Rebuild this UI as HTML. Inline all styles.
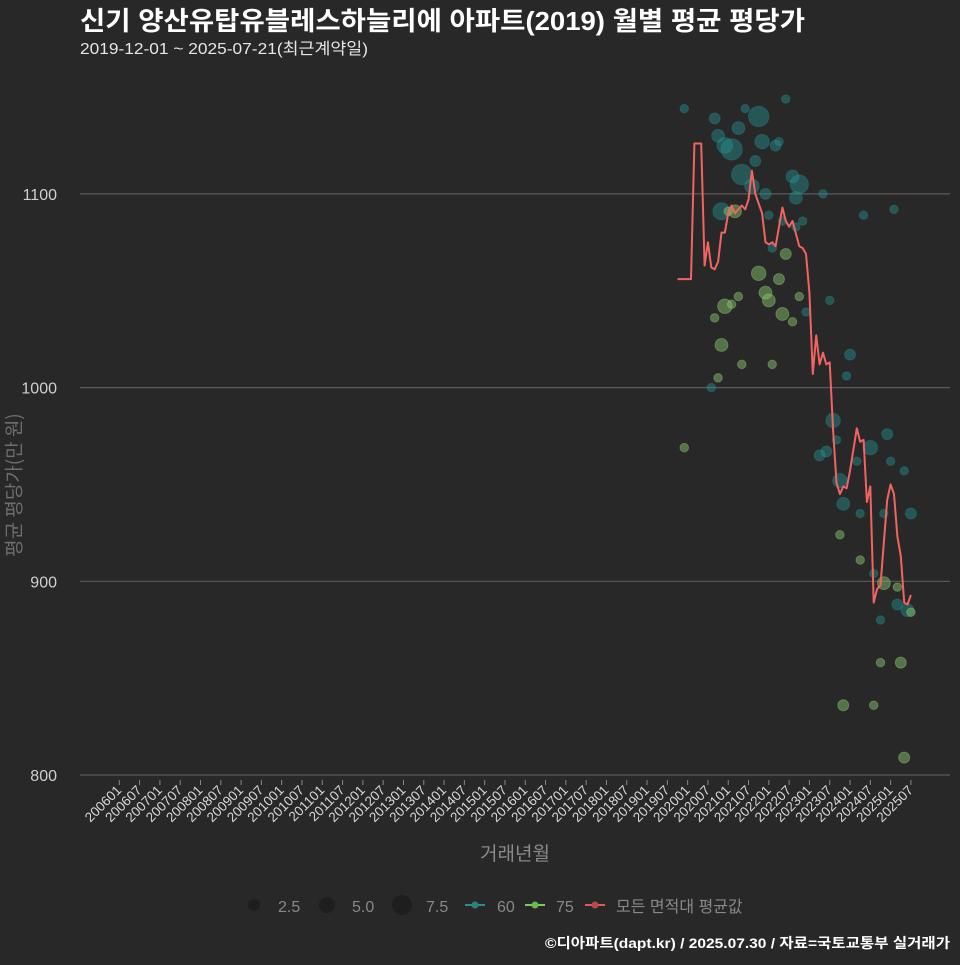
<!DOCTYPE html>
<html><head><meta charset="utf-8">
<style>
html,body{margin:0;padding:0;background:#282828;}
body{width:960px;height:960px;overflow:hidden;font-family:"Liberation Sans","Noto Sans CJK KR",sans-serif;position:relative;}
svg text{font-family:"Liberation Sans","Noto Sans CJK KR",sans-serif;}
#ytitle{position:absolute;left:13px;top:485px;transform:translate(-50%,-50%) rotate(-90deg);transform-origin:center;white-space:nowrap;color:#6e6e6e;font-size:19px;font-family:"Noto Sans CJK KR",sans-serif;}
</style></head>
<body>
<svg id="chart" width="960" height="960" xmlns="http://www.w3.org/2000/svg">
<rect width="960" height="960" fill="#282828"/>
<text x="80" y="30" fill="#ffffff" font-size="26" font-weight="bold" textLength="725" lengthAdjust="spacingAndGlyphs">신기 양산유탑유블레스하늘리에 아파트(2019) 월별 평균 평당가</text>
<text x="80" y="54" fill="#e6e6e6" font-size="16" textLength="288" lengthAdjust="spacingAndGlyphs">2019-12-01 ~ 2025-07-21(최근계약일)</text>
<g id="grid"></g>
<g id="bubbles"></g>
<g id="line"></g>
<g id="xaxis"></g>
<text x="515" y="860" fill="#8a8a8a" font-size="19" text-anchor="middle">거래년월</text>
<g>
  <circle cx="254" cy="905" r="6" fill="#1e1e1e"/>
  <text x="278" y="912" fill="#888" font-size="16">2.5</text>
  <circle cx="327" cy="905" r="8" fill="#1e1e1e"/>
  <text x="352" y="912" fill="#888" font-size="16">5.0</text>
  <circle cx="402" cy="905" r="10" fill="#1e1e1e"/>
  <text x="426" y="912" fill="#888" font-size="16">7.5</text>
</g>
<text x="950" y="948" fill="#ffffff" font-size="14" font-weight="bold" text-anchor="end" textLength="405" lengthAdjust="spacingAndGlyphs">©디아파트(dapt.kr) / 2025.07.30 / 자료=국토교통부 실거래가</text>
</svg>
<div id="ytitle">평균 평당가(만 원)</div>
<script>
// ---- data ----
const lineMonths = ["201910","202002","202003","202005","202006","202007","202008","202009","202010","202011","202012","202101","202102","202103","202105","202106","202107","202108","202109","202111","202112","202201","202202","202203","202205","202206","202207","202208","202210","202211","202212","202301","202302","202303","202304","202305","202306","202307","202308","202309","202310","202311","202312","202401","202403","202404","202405","202406","202407","202408","202409","202410","202412","202501","202502","202503","202504","202505","202506","202507"];
const lineValues = [1056,1056,1126,1126,1063,1075,1062,1061,1065,1080,1080,1090,1094,1090,1094,1092,1097,1112,1100,1090,1075,1074,1075,1073,1093,1086,1083,1086,1073,1072,1069,1049,1007,1027,1012,1018,1012,1013,978,951,945,949,948,957,979,972,973,941,949,889,896,898,942,950,945,923,913,889,888,893];
const teal60Months = ["201912","202206","202009","202106","202110","202104","202010","202102","202012","202111","202203","202204","202109","202105","202108","202208","202210","202112","202209","202305","202011","202201","202205","202211","202209","202405","202502","202202","202307","202212","202401","202312","202008","202308","202309","202304","202306","202403","202412","202407","202501","202505","202310","202311","202404","202411","202507","202408","202503","202506","202410"];
const teal60Values = [1144,1149,1139,1144,1140,1134,1130,1123,1125,1127,1125,1127,1117,1110,1104,1109,1105,1100,1098,1100,1091,1089,1086,1086,1083,1089,1092,1072,1045,1039,1017,1006,1000,983,973,965,967,962,976,969,962,957,952,940,935,935,935,904,888,885,880];
const teal60Counts = [1,1,2,1,9,3,3,10,5,4,2,1,2,9,4,3,7,2,3,1,6,1,1,1,1,1,1,1,1,1,2,1,1,4,1,2,2,1,2,4,1,1,4,3,1,1,2,1,2,3,1];
const green75Months = ["202101","202103","202206","202110","202204","202112","202201","202012","202102","202104","202210","202205","202208","202009","202011","202105","202202","202010","201912","202310","202404","202411","202503","202507","202410","202504","202311","202408","202505"];
const green75Values = [1091,1091,1069,1059,1056,1049,1045,1042,1043,1047,1047,1038,1034,1036,1022,1012,1012,1005,969,924,911,899,897,884,858,858,836,836,809];
const green75Counts = [1,3,2,4,2,3,3,4,1,1,1,3,1,1,3,1,1,1,1,1,1,3,1,1,1,2,2,1,2];
const yTicks = [800,900,1000,1100];

// ---- scales ----
const NS="http://www.w3.org/2000/svg";
function monthIdx(s){return (parseInt(s.slice(0,4))-2006)*12+parseInt(s.slice(4,6))-1;}
function xScale(s){return 119.3+monthIdx(s)*3.383;}
function yScale(v){return 775-(v-800)*1.937;}
function rScale(n){return 1.25+3*Math.sqrt(n);}
function mk(tag,attrs,parent){const e=document.createElementNS(NS,tag);for(const k in attrs)e.setAttribute(k,attrs[k]);parent.appendChild(e);return e;}

const grid=document.getElementById('grid');
yTicks.forEach(v=>{
  const l=mk('line',{x1:80,x2:950,y1:yScale(v),y2:yScale(v),stroke:'#5a5a5a','stroke-width':1.2},grid);
  
  
  const t=mk('text',{x:57,y:yScale(v)+6,fill:'#d0d0d0','font-size':16,'text-anchor':'end'},grid);
  t.textContent=v;
  
  
});

const xaxis=document.getElementById('xaxis');
for(let y=2006;y<=2025;y++){for(const m of ['01','07']){
  const s=y+m; const x=xScale(s);
  const tk=mk('line',{x1:x,x2:x,y1:780,y2:785,stroke:'#888','stroke-width':1},xaxis);
  
  
  const t=mk('text',{transform:'translate('+(x+3)+',791) rotate(-45)',fill:'#d8d8d8','font-size':13.5,'text-anchor':'end'},xaxis);
  t.textContent=s;
  
  
}}

const bub=document.getElementById('bubbles');
teal60Months.forEach((m,i)=>{
  const c=mk('circle',{cx:xScale(m),cy:yScale(teal60Values[i]),r:rScale(teal60Counts[i]),fill:'rgba(38,150,150,0.42)',stroke:'rgba(38,150,150,0.3)'},bub);
  
  
});
green75Months.forEach((m,i)=>{
  const c=mk('circle',{cx:xScale(m),cy:yScale(green75Values[i]),r:rScale(green75Counts[i]),fill:'rgba(140,205,110,0.45)',stroke:'rgba(160,220,130,0.35)'},bub);
  
  
});

const lg=document.getElementById('line');
const pts=lineMonths.map((m,i)=>xScale(m).toFixed(1)+','+yScale(lineValues[i]).toFixed(1)).join(' ');
const pl=mk('polyline',{points:pts,fill:'none',stroke:'#f26461','stroke-width':2,'stroke-linejoin':'round'},lg);



// legend series entries
const svg=document.getElementById('chart');
const entries=[[465,'#2a8f8a','#2e7f7a','60',497,'60'],[525,'#7ccc5c','#6db550','75',556,'75'],[585,'#e05a58','#b84848','모든 면적대 평균값',616,'all']];
entries.forEach(e=>{
  const g=mk('g',{},svg);
  
  
  mk('line',{x1:e[0],x2:e[0]+20,y1:905,y2:905,stroke:e[1],'stroke-width':2},g);
  mk('circle',{cx:e[0]+10,cy:905,r:3.5,fill:e[2]},g);
  const t=mk('text',{x:e[4],y:912,fill:'#888','font-size':16},g);
  t.textContent=e[3];
});
</script>
</body></html>
